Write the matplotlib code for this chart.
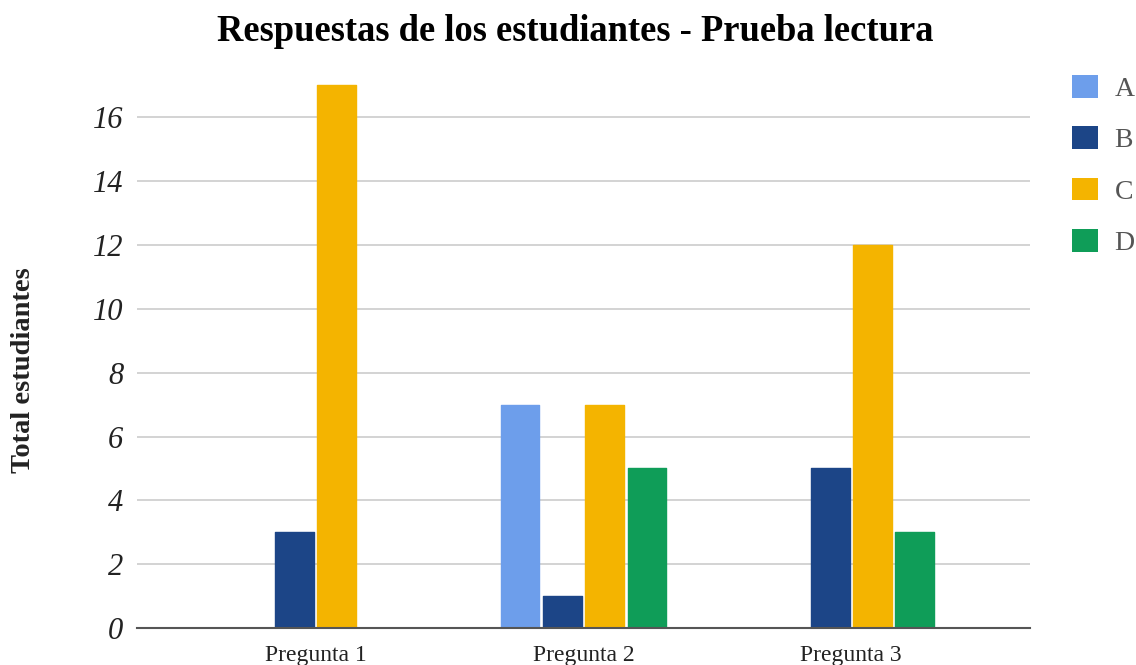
import matplotlib
matplotlib.use("Agg")
import matplotlib.pyplot as plt
import numpy as np
from matplotlib.patches import Patch

categories = ["Pregunta 1", "Pregunta 2", "Pregunta 3"]
series_names = ["A", "B", "C", "D"]
A = [0, 7, 0]
B = [3, 1, 5]
C = [17, 7, 12]
D = [0, 5, 3]
series = [A, B, C, D]
colors = ["#6d9eeb", "#1c4587", "#f4b400", "#0f9d58"]
yticks = [0, 2, 4, 6, 8, 10, 12, 14, 16]

plt.rcParams['font.family'] = ['Liberation Serif', 'DejaVu Serif']

fig = plt.figure(figsize=(11.36, 6.65), dpi=100)
ax = fig.add_axes([0.1206, 0.0556, 0.786, 0.84])

x = np.arange(len(categories))
slot = 0.158
width = 0.145
for i, (vals, col) in enumerate(zip(series, colors)):
    bars = ax.bar(x + (i - 1.5) * slot, vals, width=width, color=col,
                  edgecolor=col, linewidth=1.0, zorder=3)
    for b in bars:
        b.set_joinstyle('round')

ax.set_xlim(-0.667, 2.667)
ax.set_ylim(0, 17.5)
ax.set_yticks(yticks)
ax.set_yticklabels([str(t) for t in yticks], fontstyle='italic', fontsize=22, color='#222222')
ax.set_xticks(x)
ax.set_xticklabels(categories, fontsize=17, color='#222222')
ax.tick_params(axis='both', length=0)
ax.tick_params(axis='y', pad=10)
ax.tick_params(axis='x', pad=12.5)
ax.grid(axis='y', color='#cccccc', linewidth=1.2, zorder=0)
for s in ['top', 'right', 'left']:
    ax.spines[s].set_visible(False)
ax.spines['bottom'].set_color('#555555')
ax.spines['bottom'].set_linewidth(1.5)
ax.spines['bottom'].set_zorder(4)

ax.set_ylabel("Total estudiantes", fontsize=20.5, fontweight='bold', color='#222222')
ax.yaxis.set_label_coords(-0.113, 0.4615)
fig.suptitle("Respuestas de los estudiantes - Prueba lectura", fontsize=26.3, fontweight='bold',
             y=0.979, x=0.5066)

handles = [Patch(facecolor=c, edgecolor='none') for c in colors]
fig.legend(handles, series_names, loc='upper left', bbox_to_anchor=(0.9214, 0.925),
           frameon=False, fontsize=20, labelspacing=0.88, handlelength=0.94, handleheight=0.88,
           handletextpad=0.6, labelcolor='#555555')

fig.savefig("out.png", dpi=100)
